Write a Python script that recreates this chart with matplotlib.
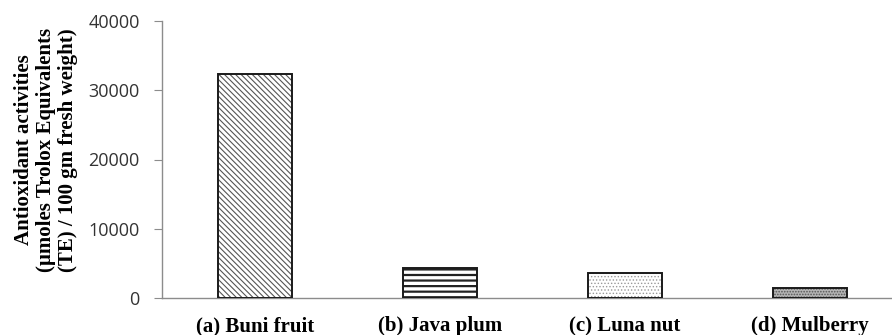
import matplotlib
matplotlib.use("Agg")
import matplotlib.pyplot as plt

# antioxidant activity per fruit, TE / 100 g fresh weight
fruits = ["(a) Buni fruit", "(b) Java plum", "(c) Luna nut", "(d) Mulberry"]
activity = [32400, 4300, 3570, 1490]

hatches = ["\\\\\\\\\\\\", "---", ".....", "......"]
hatch_colors = ["#555555", "#222222", "#9a9a9a", "#555555"]
face_colors = ["white", "white", "white", "#b5b5b5"]
hatch_lw = [0.8, 1.6, 0.6, 0.8]

fig = plt.figure(figsize=(8.92, 3.35), dpi=100)
ax = fig.add_axes([162 / 892, 37 / 335, 1 - 162 / 892, 277 / 335])

x = list(range(len(fruits)))
width = 0.4
for i, (xi, v) in enumerate(zip(x, activity)):
    bars = ax.bar(xi, v, width, color=face_colors[i], hatch=hatches[i],
                  edgecolor=hatch_colors[i], linewidth=0, zorder=2)
    for b in bars:
        if hasattr(b, "set_hatch_linewidth"):
            b.set_hatch_linewidth(hatch_lw[i])
ax.bar(x, activity, width, fill=False, edgecolor="#1a1a1a", linewidth=1.4, zorder=3)

ax.set_xlim(-0.503, 3.443)
ax.set_ylim(0, 40000)
ax.set_yticks([0, 10000, 20000, 30000, 40000])
ax.set_xticks(x)
ax.set_xticklabels(fruits, fontfamily="Liberation Serif", fontweight="bold", fontsize=15)
for lab in ax.get_yticklabels():
    lab.set_fontfamily("Open Sans")
    lab.set_fontsize(13)
    lab.set_color("#333333")

for s in ["top", "right"]:
    ax.spines[s].set_visible(False)
for s in ["left", "bottom"]:
    ax.spines[s].set_color("#8c8c8c")
    ax.spines[s].set_linewidth(1)
ax.tick_params(axis="y", length=6, color="#8c8c8c", pad=10)
ax.tick_params(axis="x", length=0, pad=13)

ax.set_ylabel("Antioxidant activities\n(µmoles Trolox Equivalents\n(TE) / 100 gm fresh weight)",
              fontfamily="Liberation Serif", fontweight="bold", fontsize=15,
              linespacing=1.12)
ax.yaxis.set_label_coords(-0.115, 0.535)

fig.savefig("out.png", dpi=100)
